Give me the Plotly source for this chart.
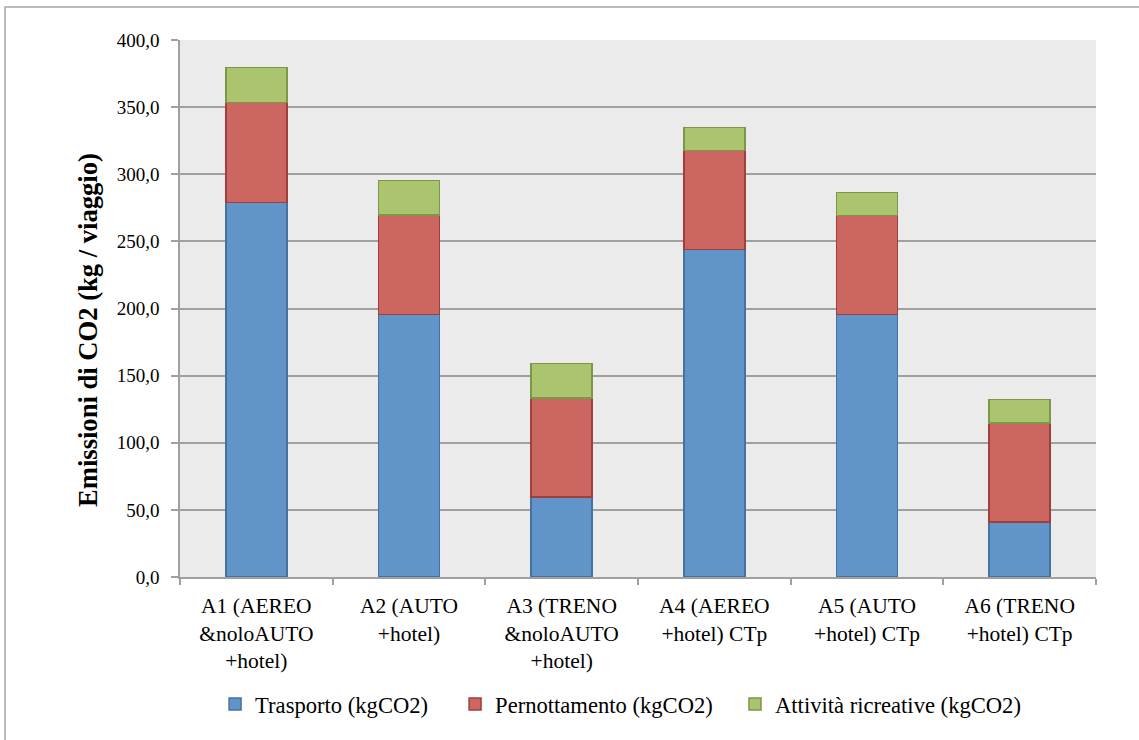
import plotly.graph_objects as go

# Travel scenarios (x-axis categories)
categories = [
    "A1 (AEREO<br>&noloAUTO<br>+hotel)",
    "A2 (AUTO<br>+hotel)",
    "A3 (TRENO<br>&noloAUTO<br>+hotel)",
    "A4 (AEREO<br>+hotel) CTp",
    "A5 (AUTO<br>+hotel) CTp",
    "A6 (TRENO<br>+hotel) CTp",
]

# CO2 emissions per trip (kg), by component
trasporto = [279.0, 195.5, 59.5, 244.0, 195.5, 41.0]
pernottamento = [74.5, 74.0, 73.8, 73.6, 73.7, 73.8]
attivita = [26.0, 25.8, 25.8, 17.4, 17.3, 17.3]

y_ticks = [0, 50, 100, 150, 200, 250, 300, 350, 400]

# name, values, fill, outline, legend id, legend x (paper)
series = [
    ("Trasporto (kgCO2)", trasporto, "#6195C9", "#46729F", "legend", 0.0383),
    ("Pernottamento (kgCO2)", pernottamento, "#CC6661", "#A23F3C", "legend2", 0.3003),
    ("Attività ricreative (kgCO2)", attivita, "#ABC56F", "#7C964A", "legend3", 0.6059),
]

FONT = "'Liberation Serif', 'Times New Roman', serif"

fig = go.Figure()
legend_layout = {}
for name, vals, fill, edge, leg, lx in series:
    fig.add_trace(go.Bar(
        x=categories,
        y=vals,
        name=name,
        width=0.4,
        legend=leg,
        marker=dict(color=fill, line=dict(color=edge, width=1.5)),
    ))
    legend_layout[leg] = dict(
        orientation="h",
        x=lx,
        xanchor="left",
        y=-0.237,
        yanchor="middle",
        font=dict(family=FONT, size=22.6, color="black"),
        bgcolor="rgba(0,0,0,0)",
        borderwidth=0,
        itemwidth=30,
    )

fig.update_layout(
    barmode="stack",
    width=1139,
    height=740,
    margin=dict(l=180, r=43, t=40, b=163),
    paper_bgcolor="white",
    plot_bgcolor="#EBEBEB",
    separators=",.",
    font=dict(family=FONT, color="black"),
    showlegend=True,
    **legend_layout,
)

fig.update_xaxes(
    type="category",
    tickson="boundaries",
    ticks="outside",
    ticklen=6,
    tickcolor="#A0A0A0",
    tickwidth=1.5,
    showline=True,
    linecolor="#A0A0A0",
    linewidth=1.5,
    showgrid=False,
    tickfont=dict(family=FONT, size=21.5, color="black"),
    ticklabelstandoff=8,
)

fig.update_yaxes(
    range=[0, 400],
    tickvals=y_ticks,
    tickformat=".1f",
    ticks="outside",
    ticklen=7,
    tickcolor="#A0A0A0",
    tickwidth=1.5,
    showline=True,
    linecolor="#A0A0A0",
    linewidth=1.5,
    showgrid=True,
    gridcolor="#A0A0A0",
    gridwidth=1.5,
    zeroline=False,
    tickfont=dict(family=FONT, size=19, color="black"),
    ticklabelstandoff=8,
)

# Y-axis title
fig.add_annotation(
    text="<b>Emissioni di CO2 (kg / viaggio)</b>",
    xref="paper", yref="paper",
    x=(88 - 180) / 916, y=(577 - 330) / 537,
    xanchor="center", yanchor="middle",
    textangle=-90,
    showarrow=False,
    font=dict(family=FONT, size=26.6, color="black"),
)

# Outer chart frame
fig.add_shape(
    type="rect",
    xref="paper", yref="paper",
    x0=(5 - 180) / 916, x1=1.2,
    y0=-0.4, y1=(577 - 7) / 537,
    line=dict(color="#A6A6A6", width=1.5),
    fillcolor="rgba(0,0,0,0)",
    layer="below",
)

fig.write_html("out.html")
